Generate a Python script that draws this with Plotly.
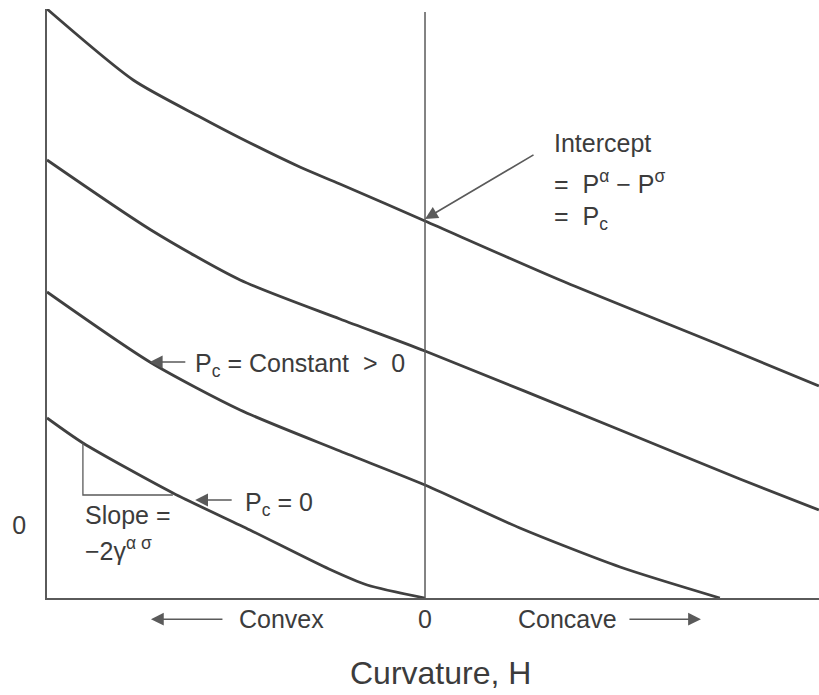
import plotly.graph_objects as go

# Curvature H (negative = convex, positive = concave) and capillary pressure, arbitrary units
h_high = [-1.000, -0.772, -0.595, -0.489, -0.331, -0.225, 0.000, 0.357, 0.780, 1.042]
p_high = [5.89, 5.18, 4.81, 4.60, 4.31, 4.14, 3.77, 3.18, 2.53, 2.12]

h_mid = [-1.000, -0.725, -0.489, -0.225, 0.000, 0.516, 0.833, 1.042]
p_mid = [4.38, 3.68, 3.18, 2.79, 2.47, 1.68, 1.19, 0.88]

h_low = [-1.000, -0.728, -0.489, -0.225, 0.000, 0.251, 0.516, 0.780]
p_low = [3.06, 2.36, 1.88, 1.47, 1.13, 0.70, 0.31, 0.00]

h_zero = [-1.000, -0.905, -0.667, -0.463, -0.254, -0.153, 0.000]
p_zero = [1.80, 1.55, 1.05, 0.68, 0.29, 0.13, 0.00]

# Slope triangle drawn under the Pc = 0 curve
slope_h = [-0.905, -0.905, -0.667]
slope_p = [1.55, 1.03, 1.03]

y_ticks = [0.73]
y_tick_text = ["0"]

INK = "#404040"
AXIS = "#5a5a5a"
FONT = "Liberation Sans, Arial, sans-serif"

fig = go.Figure()

for hs, ps in [(h_high, p_high), (h_mid, p_mid), (h_low, p_low), (h_zero, p_zero)]:
    fig.add_trace(go.Scatter(
        x=hs, y=ps, mode="lines",
        line=dict(color=INK, width=2.8, shape="spline", smoothing=0.7),
        hoverinfo="skip",
    ))

fig.add_trace(go.Scatter(
    x=slope_h, y=slope_p, mode="lines",
    line=dict(color=AXIS, width=1.3), hoverinfo="skip",
))

# H = 0 reference line
fig.add_shape(type="line", x0=0, x1=0, y0=0, y1=5.86,
              line=dict(color=AXIS, width=1.5), xref="x", yref="y")

text_font = dict(family=FONT, size=25, color="#3c3c3c")
anns = []

def label(x, y, text, xanchor="left", yref="y", size=25):
    anns.append(dict(x=x, y=y, xref="x", yref=yref, text=text, showarrow=False,
                     xanchor=xanchor, yanchor="middle",
                     font=dict(family=FONT, size=size, color="#3c3c3c")))

def arrow(x, y, ax, ay, yref="y"):
    anns.append(dict(x=x, y=y, xref="x", yref=yref, text="", showarrow=True,
                     ax=ax, ay=ay, axref="pixel", ayref="pixel",
                     arrowhead=2, arrowsize=1.6, arrowwidth=1.6,
                     arrowcolor=AXIS, standoff=0, startstandoff=0))

label(0.336, 4.55, "Intercept")
label(0.336, 4.16, "=  P<sup>α</sup> − P<sup>σ</sup>")
label(0.336, 3.80, "=  P<sub>c</sub>")
arrow(0.0, 3.79, 110, -65)

label(-0.614, 2.33, "P<sub>c</sub> = Constant  >  0")
arrow(-0.728, 2.36, 37, 0)

label(-0.481, 0.94, "P<sub>c</sub> = 0")
arrow(-0.608, 0.98, 38, 0)

label(-0.905, 0.83, "Slope =")
label(-0.905, 0.49, "−2γ<sup>α σ</sup>")

label(-0.497, -0.036, "Convex", yref="paper")
label(0.0, -0.036, "0", xanchor="center", yref="paper")
label(0.241, -0.036, "Concave", yref="paper")
arrow(-0.725, -0.036, 73, 0, yref="paper")
arrow(0.730, -0.036, -73, 0, yref="paper")

label(0.042, -0.127, "Curvature, H", xanchor="center", yref="paper", size=32)

fig.update_layout(
    width=819, height=695,
    margin=dict(l=47, r=0, t=9, b=97),
    paper_bgcolor="white", plot_bgcolor="white",
    showlegend=False,
    annotations=anns,
    xaxis=dict(range=[-1.0, 1.0423], showline=True, linecolor=AXIS, linewidth=1.5,
               showgrid=False, zeroline=False, ticks="", showticklabels=False),
    yaxis=dict(range=[0, 5.89], showline=True, linecolor=AXIS, linewidth=1.5,
               showgrid=False, zeroline=False, ticks="",
               tickvals=y_ticks, ticktext=y_tick_text,
               tickfont=text_font, ticklabelstandoff=14),
)

fig.write_html("out.html")
